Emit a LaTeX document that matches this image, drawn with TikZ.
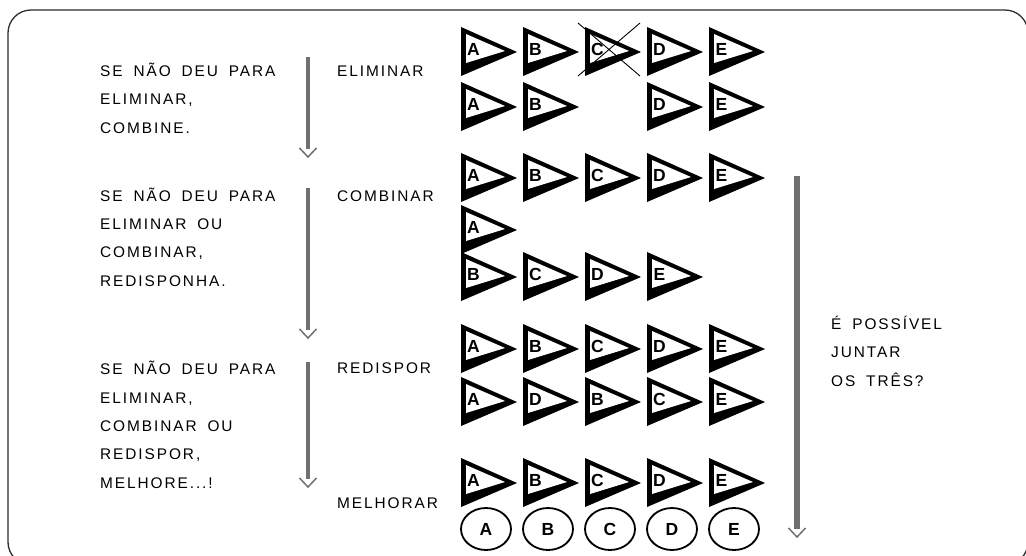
\documentclass[tikz,border=0pt]{standalone}
\usepackage{fontspec}
\setmainfont{Liberation Sans}
\newfontfamily\spaced[LetterSpace=12.5,WordSpace=1.75]{Liberation Sans}
\usepackage{tikz}
\usetikzlibrary{shapes.geometric}
\usetikzlibrary{arrows.meta}
\definecolor{arrowgray}{RGB}{112,112,112}
\definecolor{framegray}{RGB}{45,45,45}

% pennant: x, y (top left), letter, name
\newcommand{\pennant}[4]{%
  \begin{scope}[shift={(#1,#2)}]
    \fill[black] (0,0) -- (0,49) -- (56,25) -- cycle;
    \fill[white] (5,7) -- (5,36) -- (44,24) -- cycle;
    \node[flagtext] (#4) at (12.5,22) {#3};
  \end{scope}}

\begin{document}
\begin{tikzpicture}[x=1pt,y=-1pt,
    flagtext/.style={font=\bfseries\fontsize{17.5}{17.5}\selectfont,inner sep=0pt},
    token/.style={ellipse,draw,line width=1.8pt,minimum width=50pt,minimum height=42pt,inner sep=0pt,font=\bfseries\fontsize{17.5}{17.5}\selectfont},
    hint/.style={font=\spaced\fontsize{15.4}{28.3}\selectfont,align=left,anchor=base west,inner sep=0pt},
    stage/.style={font=\spaced\fontsize{15.4}{18}\selectfont,anchor=base west,inner sep=0pt},
    shaft/.style={draw=arrowgray,line width=4.5pt},
    chevron/.style={draw=arrowgray,line width=1.5pt}]
  \useasboundingbox (0,0) rectangle (1026,555);
  \clip (0,0) rectangle (1026,555);
  \draw[framegray,line width=1.3pt,rounded corners=23pt] (8,10) rectangle (1028,565);

  % left hints (placed at the last baseline)
  \node[hint] (hint1) at (100,133) {SE NÃO DEU PARA\\ELIMINAR,\\COMBINE.};
  \node[hint] (hint2) at (100,286) {SE NÃO DEU PARA\\ELIMINAR OU\\COMBINAR,\\REDISPONHA.};
  \node[hint] (hint3) at (100,488) {SE NÃO DEU PARA\\ELIMINAR,\\COMBINAR OU\\REDISPOR,\\MELHORE...!};
  \node[hint] (question) at (831,386) {É POSSÍVEL\\JUNTAR\\OS TRÊS?};

  % stages
  \node[stage] (eliminar) at (337,76) {ELIMINAR};
  \node[stage] (combinar) at (337,201) {COMBINAR};
  \node[stage] (redispor) at (337,373) {REDISPOR};
  \node[stage] (melhorar) at (337,508) {MELHORAR};

  % gray arrows
  \foreach \x/\ya/\yb/\w in {308/57/157/4.5, 308/188/338/4.5, 308/362/487/4.5, 797/176/537/5.5} {
    \draw[shaft,line width=\w pt] (\x,\ya) -- (\x,\yb-8);
    \draw[chevron] (\x-8.5,\yb-9) -- (\x,\yb) -- (\x+8.5,\yb-9);
  }

  % eliminar
  \foreach \l [count=\i from 0] in {A,B,C,D,E}
    \pennant{461+62*\i}{27}{\l}{r1\l};
  \draw[line width=0.9pt] (578,23) -- (640,76) (640,23) -- (578,76);
  \foreach \l/\i in {A/0,B/1,D/3,E/4}
    \pennant{461+62*\i}{82}{\l}{r2\l};

  % combinar
  \foreach \l [count=\i from 0] in {A,B,C,D,E}
    \pennant{461+62*\i}{153}{\l}{r3\l};
  \pennant{461}{205}{A}{r4A};
  \foreach \l [count=\i from 0] in {B,C,D,E}
    \pennant{461+62*\i}{252}{\l}{r5\l};

  % redispor
  \foreach \l [count=\i from 0] in {A,B,C,D,E}
    \pennant{461+62*\i}{324}{\l}{r6\l};
  \foreach \l [count=\i from 0] in {A,D,B,C,E}
    \pennant{461+62*\i}{377}{\l}{r7\l};

  % melhorar
  \foreach \l [count=\i from 0] in {A,B,C,D,E}
    \pennant{461+62*\i}{458}{\l}{r8\l};
  \foreach \l [count=\i from 0] in {A,B,C,D,E}
    \node[token] (t\l) at (486+62*\i,529) {\l};
\end{tikzpicture}
\end{document}
